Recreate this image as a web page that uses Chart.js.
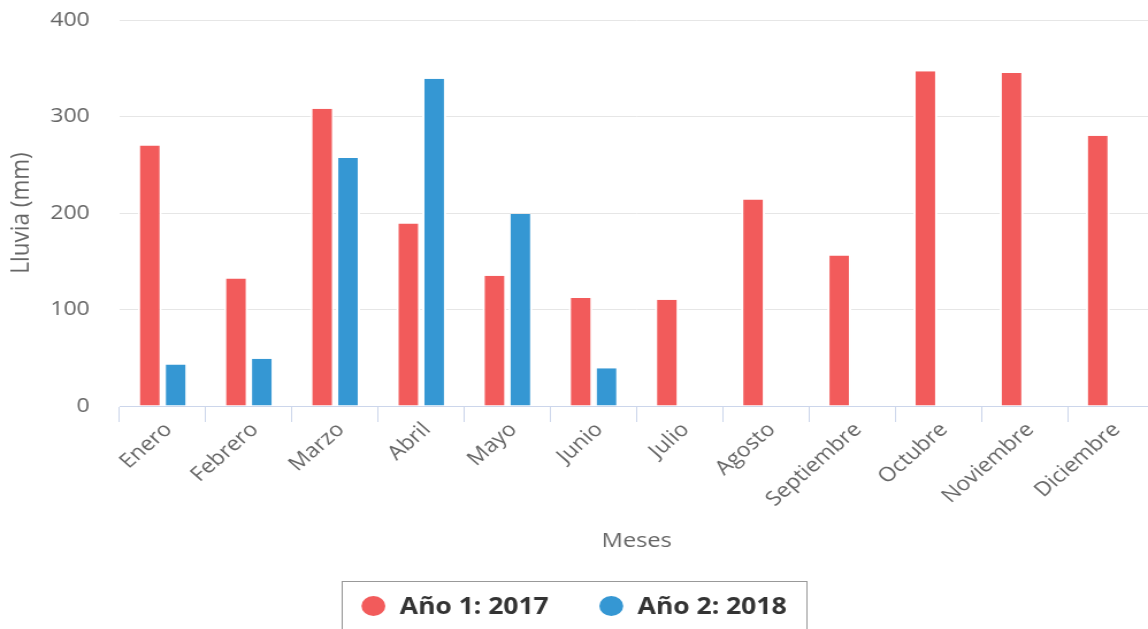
<!DOCTYPE html>
<html>
<head>
<meta charset="utf-8">
<script src="https://cdn.jsdelivr.net/npm/chart.js@4.4.1/dist/chart.umd.min.js"></script>
<style>
    html, body { margin: 0; padding: 0; background: #fff; overflow: hidden; }
    #chartContainer {
        width: 1003px;
        height: 629px;
        transform: scaleX(1.1503);
        transform-origin: 0 0;
    }
</style>
</head>
<body>
<div id="chartContainer"><canvas id="lluviaChart"></canvas></div>
<script>
// Datos de la gráfica
const meses = ["Enero", "Febrero", "Marzo", "Abril", "Mayo", "Junio", "Julio",
    "Agosto", "Septiembre", "Octubre", "Noviembre", "Diciembre"];
const lluvia2017 = [270, 132, 308, 189, 135, 112, 110, 214, 156, 347, 345, 280];
const lluvia2018 = [43, 49, 257, 339, 199, 39, null, null, null, null, null, null];
const yTicks = [0, 100, 200, 300, 400];

// the plot runs a little past the right edge of the page
const visibleWidth = 998;

Chart.defaults.font.family = "'Open Sans', sans-serif";
Chart.defaults.color = "#666";

// Legend with a border box, drawn below the axis title
const boxLegend = {
    id: "boxLegend",
    afterDraw(chart) {
        const ctx = chart.ctx;
        const items = chart.data.datasets;
        const rx = 10.4, ry = 10, gap = 12.5, spacing = 44, pad = 17;
        ctx.save();
        ctx.font = "bold 23px 'Open Sans', sans-serif";
        const widths = items.map(d => 2 * rx + gap + ctx.measureText(d.label).width);
        const total = widths.reduce((a, b) => a + b, 0) + spacing * (items.length - 1);
        let x = visibleWidth / 2 - total / 2;
        const y = 606;

        ctx.strokeStyle = "#999";
        ctx.lineWidth = 1;
        ctx.strokeRect(Math.round(x - pad) + 0.5, 581.5, Math.round(total + 2 * pad), 80);

        ctx.textBaseline = "middle";
        items.forEach((d, i) => {
            ctx.fillStyle = d.backgroundColor;
            ctx.beginPath();
            ctx.ellipse(x + rx, y, rx, ry, 0, 0, Math.PI * 2);
            ctx.fill();
            ctx.fillStyle = "#333";
            ctx.fillText(d.label, x + 2 * rx + gap, y + 1);
            x += widths[i] + spacing;
        });
        ctx.restore();
    }
};

const data = {
    labels: meses,
    datasets: [
        {
            label: "Año 1: 2017",
            data: lluvia2017,
            backgroundColor: "#f25b5b",
            borderColor: "#fff",
            borderWidth: { left: 2, right: 2, top: 0, bottom: 0 },
            borderSkipped: false,
            categoryPercentage: 0.6,
            barPercentage: 0.93
        },
        {
            label: "Año 2: 2018",
            data: lluvia2018,
            backgroundColor: "#3597d3",
            borderColor: "#fff",
            borderWidth: { left: 2, right: 2, top: 0, bottom: 0 },
            borderSkipped: false,
            categoryPercentage: 0.6,
            barPercentage: 0.93
        }
    ]
};

const options = {
    responsive: true,
    maintainAspectRatio: false,
    animation: false,
    layout: { padding: { top: 20, right: 0, bottom: 73, left: 0 } },
    plugins: {
        legend: { display: false },
        tooltip: { enabled: false }
    },
    scales: {
        x: {
            grid: {
                offset: true,
                drawOnChartArea: false,
                drawTicks: true,
                tickLength: 16,
                color: "#ccd6eb"
            },
            border: { color: "#ccd6eb", width: 1 },
            ticks: {
                minRotation: 45,
                maxRotation: 45,
                padding: -4,
                labelOffset: 5,
                color: "#666",
                font: { size: 20 }
            },
            title: {
                display: true,
                text: "Meses",
                color: "#666",
                font: { size: 20.5 },
                padding: { top: 0, bottom: 3 }
            },
            afterFit(scale) { scale.height = 150; }
        },
        y: {
            min: 0,
            max: 400,
            afterBuildTicks(scale) { scale.ticks = yTicks.map(v => ({ value: v })); },
            // invisible tick marks keep the labels away from the plot
            grid: { color: "#e6e6e6", drawTicks: true, tickLength: 26, tickColor: "rgba(0,0,0,0)" },
            border: { display: false },
            ticks: {
                padding: 0,
                color: "#666",
                font: { size: 20 }
            },
            title: {
                display: true,
                text: "Lluvia (mm)",
                color: "#666",
                font: { size: 22.5 },
                padding: { top: 5, bottom: 0 }
            },
            afterFit(scale) { scale.width = 104; }
        }
    }
};

new Chart(document.getElementById("lluviaChart").getContext("2d"), {
    type: "bar",
    data: data,
    options: options,
    plugins: [boxLegend]
});
</script>
</body>
</html>
